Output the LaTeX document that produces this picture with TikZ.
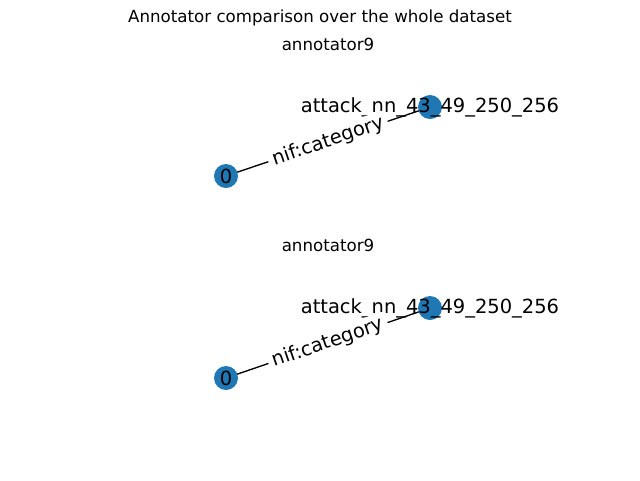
\documentclass[tikz,border=0pt]{standalone}
\usepackage{fontspec}
\setmainfont{DejaVu Sans}
\definecolor{mplblue}{HTML}{1F77B4}
\tikzset{
  vtx/.style={circle, fill=mplblue, draw=none, minimum size=18pt, inner sep=0pt},
  vlabel/.style={font=\fontsize{14.6}{16}\selectfont, inner sep=0pt, anchor=center},
  elabel/.style={font=\fontsize{14.6}{16}\selectfont, fill=white, inner xsep=3.5pt, inner ysep=2pt, rounded corners=2pt, sloped, pos=0.5},
  ttl/.style={font=\fontsize{12.5}{14}\selectfont, inner sep=0pt},
  edge/.style={draw=black, line width=1pt}
}
\begin{document}
\begin{tikzpicture}[x=0.75pt,y=-0.75pt]
\useasboundingbox[fill=white] (0,0) rectangle (640,480);
\node[ttl] (suptitle) at (320,18) {Annotator comparison over the whole dataset};
\node[ttl] (title1) at (328,44) {annotator9};
\node[ttl] (title2) at (328,245) {annotator9};
% panel 1
\coordinate (p1a) at (226,176);
\coordinate (p1b) at (430,107);
\draw[edge] (p1a) -- (p1b);
\node[vtx] (n1a) at (p1a) {};
\node[vtx] (n1b) at (p1b) {};
\node[vlabel] (l1a) at (p1a) {0};
\node[vlabel] (l1b) at (p1b) {attack\_nn\_43\_49\_250\_256};
\path (p1a) -- node[elabel] (e1) {nif:category} (p1b);
% panel 2
\coordinate (p2a) at (226,378);
\coordinate (p2b) at (430,308);
\draw[edge] (p2a) -- (p2b);
\node[vtx] (n2a) at (p2a) {};
\node[vtx] (n2b) at (p2b) {};
\node[vlabel] (l2a) at (p2a) {0};
\node[vlabel] (l2b) at (p2b) {attack\_nn\_43\_49\_250\_256};
\path (p2a) -- node[elabel] (e2) {nif:category} (p2b);
\end{tikzpicture}
\end{document}
